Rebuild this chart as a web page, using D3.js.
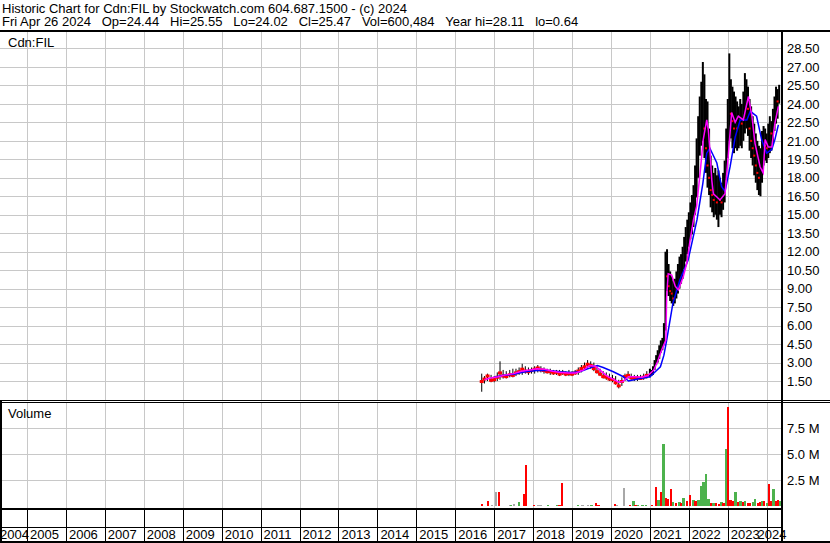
<!DOCTYPE html>
<html>
<head>
<meta charset="utf-8">
<script src="https://cdn.jsdelivr.net/npm/d3@7"></script>
<style>
  body { margin: 0; background: #fff; }
  svg { display: block; font-family: "Liberation Sans", Arial, sans-serif; }
  .grid line { stroke: #c8c8c8; shape-rendering: crispEdges; }
  .grid path { display: none; }
  .lbl path, .lbl line { display: none; }
  .lbl text { font-size: 13px; fill: #000; }
  .band line { stroke: #000; shape-rendering: crispEdges; }
  .band path { display: none; }
</style>
</head>
<body>
<div id="chart"></div>
<script>
// header text
const headerLines = [
  "Historic Chart for Cdn:FIL by Stockwatch.com 604.687.1500 - (c) 2024",
  "Fri Apr 26 2024   Op=24.44   Hi=25.55   Lo=24.02   Cl=25.47   Vol=600,484   Year hi=28.11   lo=0.64"
]
const symbolName = "Cdn:FIL"

// axis ticks
const yearValues = [2004, 2005, 2006, 2007, 2008, 2009, 2010, 2011, 2012, 2013, 2014,
                    2015, 2016, 2017, 2018, 2019, 2020, 2021, 2022, 2023, 2024]
const yearLabels = ["2004", "2005", "2006", "2007", "2008", "2009", "2010", "2011", "2012", "2013", "2014",
                    "2015", "2016", "2017", "2018", "2019", "2020", "2021", "2022", "2023", "2024"]
const priceTicks = [1.5, 3, 4.5, 6, 7.5, 9, 10.5, 12, 13.5, 15, 16.5, 18, 19.5, 21, 22.5, 24, 25.5, 27, 28.5]
const volumeTicks = [2.5, 5, 7.5]          // millions
const volumeTickLabels = ["2.5 M", "5.0 M", "7.5 M"]

// price bars (decimal year, high, low, close)
const barDates = [
  2016.68, 2016.75, 2016.83, 2016.92,
  2017.00, 2017.08, 2017.15, 2017.23, 2017.31, 2017.40, 2017.48, 2017.56, 2017.64, 2017.72, 2017.80, 2017.88, 2017.96,
  2018.04, 2018.12, 2018.20, 2018.28, 2018.36, 2018.44, 2018.52, 2018.60, 2018.68, 2018.76, 2018.84, 2018.92,
  2019.00, 2019.08, 2019.16, 2019.24, 2019.32, 2019.40, 2019.48, 2019.56, 2019.64, 2019.72, 2019.80, 2019.88, 2019.96,
  2020.04, 2020.12, 2020.20, 2020.28, 2020.36, 2020.44, 2020.52, 2020.60, 2020.68, 2020.76, 2020.84, 2020.92,
  2021.00, 2021.04, 2021.08, 2021.12, 2021.16, 2021.20, 2021.24, 2021.28, 2021.32, 2021.36, 2021.40, 2021.44, 2021.48,
  2021.52, 2021.56, 2021.60, 2021.64, 2021.68, 2021.72, 2021.76, 2021.80, 2021.84, 2021.88, 2021.92, 2021.96,
  2022.00, 2022.04, 2022.08, 2022.12, 2022.16, 2022.20, 2022.24, 2022.28, 2022.32, 2022.36, 2022.40, 2022.44, 2022.48,
  2022.52, 2022.56, 2022.60, 2022.64, 2022.68, 2022.72, 2022.76, 2022.80, 2022.84, 2022.88, 2022.92, 2022.96,
  2023.00, 2023.04, 2023.08, 2023.12, 2023.16, 2023.20, 2023.24, 2023.28, 2023.32, 2023.36, 2023.40, 2023.44, 2023.48,
  2023.52, 2023.56, 2023.60, 2023.64, 2023.68, 2023.72, 2023.76, 2023.80, 2023.84, 2023.88, 2023.92, 2023.96,
  2024.00, 2024.04, 2024.08, 2024.12, 2024.16, 2024.20, 2024.24, 2024.28, 2024.32
]
const barHigh = [
  2.10, 1.90, 2.10, 2.00,
  1.90, 2.20, 3.10, 2.40, 2.30, 2.40, 2.50, 2.50, 2.60, 2.90, 2.70, 2.60, 2.60,
  2.70, 2.80, 2.70, 2.60, 2.50, 2.50, 2.40, 2.40, 2.40, 2.40, 2.30, 2.40,
  2.30, 2.40, 2.60, 2.80, 3.00, 3.20, 3.10, 3.00, 2.70, 2.50, 2.30, 2.20, 2.10,
  2.00, 1.90, 1.60, 1.80, 2.10, 2.30, 2.10, 2.00, 2.00, 2.00, 2.10, 2.30,
  2.50, 2.40, 2.70, 3.20, 3.60, 4.00, 4.40, 4.80, 5.00, 6.20, 12.0, 12.2, 11.0,
  10.4, 10.0, 9.60, 9.80, 10.4, 11.0, 11.6, 11.8, 12.4, 13.2, 14.0, 14.6,
  15.2, 16.0, 16.6, 17.4, 19.0, 21.2, 23.0, 24.6, 25.8, 27.4, 26.4, 24.4, 24.2,
  22.0, 19.8, 19.0, 18.4, 18.8, 18.2, 18.6, 18.0, 17.6, 18.4, 19.4, 22.0,
  24.4, 28.1, 26.0, 25.4, 25.0, 24.6, 24.2, 23.8, 24.4, 24.0, 25.0, 26.5, 26.0,
  25.4, 24.4, 23.8, 23.0, 22.4, 21.6, 21.0, 20.6, 20.4, 21.8, 22.2, 22.0,
  21.6, 22.4, 23.0, 22.6, 23.6, 24.6, 25.4, 25.2, 25.55
]
const barLow = [
  0.63, 1.30, 1.50, 1.40,
  1.40, 1.50, 1.60, 1.70, 1.70, 1.80, 1.80, 1.90, 2.00, 2.00, 2.10, 2.00, 2.10,
  2.10, 2.20, 2.20, 2.10, 2.10, 2.00, 2.00, 2.00, 1.90, 2.00, 1.90, 1.90,
  1.90, 2.00, 2.00, 2.20, 2.40, 2.50, 2.50, 2.30, 2.10, 1.90, 1.70, 1.60, 1.50,
  1.40, 1.20, 0.90, 1.10, 1.50, 1.70, 1.60, 1.50, 1.50, 1.60, 1.60, 1.70,
  1.80, 1.90, 2.00, 2.40, 2.80, 3.00, 3.30, 3.80, 4.00, 4.40, 5.60, 8.80, 8.40,
  8.00, 7.80, 7.60, 7.80, 8.20, 8.60, 9.00, 9.40, 9.80, 10.6, 11.2, 11.8,
  12.4, 13.0, 13.4, 14.0, 15.0, 16.4, 18.0, 19.8, 20.6, 21.0, 19.6, 18.4, 17.2,
  16.6, 15.6, 15.2, 14.8, 15.0, 14.6, 14.0, 15.0, 14.8, 15.4, 16.0, 17.8,
  19.6, 21.0, 21.2, 20.4, 20.0, 20.4, 20.2, 20.4, 20.6, 20.4, 21.0, 21.6, 22.0,
  21.4, 20.2, 19.6, 19.0, 18.2, 17.6, 17.0, 16.6, 16.5, 17.6, 19.0, 19.4,
  19.2, 19.6, 20.0, 20.2, 20.8, 21.8, 22.4, 22.8, 24.02
]
const barClose = [
  1.50, 1.70, 1.95, 1.60,
  1.65, 1.85, 2.20, 1.95, 1.90, 2.05, 2.00, 2.20, 2.30, 2.50, 2.35, 2.30, 2.40,
  2.50, 2.60, 2.45, 2.40, 2.30, 2.30, 2.20, 2.25, 2.10, 2.20, 2.10, 2.15,
  2.10, 2.20, 2.35, 2.55, 2.70, 2.90, 2.80, 2.55, 2.30, 2.10, 1.90, 1.85, 1.70,
  1.65, 1.40, 1.15, 1.50, 1.90, 2.00, 1.80, 1.75, 1.80, 1.75, 1.85, 2.00,
  2.20, 2.20, 2.50, 3.00, 3.30, 3.60, 4.00, 4.40, 4.60, 5.60, 10.4, 10.0, 9.20,
  8.80, 8.60, 8.20, 8.80, 9.40, 10.0, 10.4, 10.8, 11.4, 12.2, 12.8, 13.4,
  14.0, 14.6, 15.2, 16.0, 17.6, 19.6, 21.8, 23.0, 24.0, 25.0, 22.0, 20.4, 19.0,
  18.0, 17.0, 16.6, 16.2, 16.6, 16.0, 16.8, 16.2, 16.0, 16.8, 17.6, 20.4,
  22.6, 24.0, 23.2, 22.6, 22.0, 22.4, 22.0, 22.2, 22.6, 22.4, 23.2, 24.4, 24.6,
  23.6, 22.0, 21.0, 20.4, 19.8, 19.0, 18.4, 18.0, 18.2, 19.8, 20.8, 20.6,
  20.4, 21.2, 21.8, 21.6, 22.4, 23.6, 24.4, 24.2, 25.47
]

// short moving average (magenta)
const fastDates = [
  2016.75, 2016.90, 2017.10, 2017.30, 2017.50, 2017.70, 2017.90, 2018.10, 2018.30, 2018.50, 2018.70, 2018.90,
  2019.10, 2019.30, 2019.45, 2019.60, 2019.75, 2019.90, 2020.05, 2020.20, 2020.30, 2020.45, 2020.60, 2020.80, 2020.95,
  2021.10, 2021.20, 2021.30, 2021.38, 2021.41, 2021.43, 2021.47, 2021.56, 2021.65, 2021.73, 2021.86, 2021.95,
  2022.03, 2022.12, 2022.20, 2022.29, 2022.37, 2022.46, 2022.50, 2022.54, 2022.59, 2022.63, 2022.70, 2022.80, 2022.93,
  2023.01, 2023.10, 2023.19, 2023.27, 2023.40, 2023.53, 2023.62, 2023.70, 2023.83, 2023.91, 2023.96,
  2024.04, 2024.13, 2024.21, 2024.30
]
const fastValues = [
  1.60, 1.75, 1.85, 2.00, 2.10, 2.30, 2.40, 2.50, 2.45, 2.30, 2.20, 2.15,
  2.15, 2.40, 2.75, 2.70, 2.30, 1.90, 1.65, 1.40, 1.45, 1.85, 1.85, 1.80, 1.95,
  2.40, 3.10, 4.00, 4.60, 4.80, 8.30, 10.2, 10.1, 9.20, 8.90, 10.0, 11.1,
  12.9, 14.6, 15.7, 18.4, 21.1, 22.7, 21.9, 20.3, 17.8, 16.7, 16.5, 16.2, 16.7,
  19.7, 23.3, 22.5, 23.0, 22.7, 24.6, 23.0, 20.8, 18.9, 18.4, 21.1,
  20.5, 20.5, 22.4, 23.8
]

// long moving average (blue)
const slowDates = [
  2017.00, 2017.20, 2017.50, 2017.80, 2018.10, 2018.40, 2018.70,
  2019.00, 2019.20, 2019.45, 2019.65, 2019.80, 2020.06, 2020.32, 2020.45, 2020.75,
  2021.00, 2021.27, 2021.36, 2021.43, 2021.59, 2021.77, 2021.98,
  2022.21, 2022.36, 2022.46, 2022.54, 2022.72, 2022.84, 2022.93,
  2023.06, 2023.19, 2023.32, 2023.49, 2023.58, 2023.74, 2023.87,
  2024.00, 2024.13, 2024.21, 2024.30
]
const slowValues = [
  1.80, 1.95, 2.05, 2.25, 2.35, 2.35, 2.25,
  2.20, 2.25, 2.55, 2.75, 2.60, 2.25, 1.85, 1.50, 1.70,
  1.85, 2.66, 3.60, 4.80, 7.80, 9.70, 11.3,
  14.6, 17.55, 20.0, 20.4, 19.2, 17.3, 16.9,
  18.9, 21.3, 22.7, 22.7, 23.4, 23.0, 21.1,
  20.0, 20.3, 21.1, 22.3
]

// volume (millions), direction u = up, d = down, n = unchanged
const volDates = [
  2016.68, 2016.83, 2016.94,
  2017.04, 2017.12, 2017.41, 2017.43, 2017.51, 2017.64, 2017.76, 2017.81,
  2018.02, 2018.13, 2018.20, 2018.38, 2018.61, 2018.67, 2018.74,
  2019.15, 2019.26, 2019.41, 2019.49, 2019.61, 2019.67,
  2020.10, 2020.15, 2020.33, 2020.49, 2020.57, 2020.62, 2020.69, 2020.80, 2020.90,
  2021.05, 2021.15, 2021.22, 2021.28, 2021.34, 2021.41, 2021.46, 2021.54, 2021.59, 2021.67, 2021.75, 2021.80, 2021.86, 2021.95,
  2022.03, 2022.11, 2022.17, 2022.24, 2022.31, 2022.37, 2022.43, 2022.50, 2022.57, 2022.63, 2022.70, 2022.77, 2022.83, 2022.89, 2022.95,
  2023.00, 2023.06, 2023.14, 2023.19, 2023.25, 2023.32, 2023.38, 2023.44, 2023.51, 2023.57, 2023.64, 2023.70, 2023.77, 2023.82, 2023.87, 2023.93,
  2024.00, 2024.06, 2024.12, 2024.17, 2024.23, 2024.28, 2024.33
]
const volValues = [
  0.22, 0.54, 0.10,
  1.35, 1.38, 0.15, 0.12, 0.25, 0.45, 1.18, 3.97,
  0.08, 0.10, 0.08, 0.08, 0.15, 0.10, 2.27,
  0.08, 0.08, 0.15, 0.08, 0.30, 0.12,
  0.20, 0.15, 1.76, 0.08, 0.50, 0.15, 0.10, 0.08, 0.10,
  0.15, 1.89, 0.60, 1.38, 5.99, 0.80, 0.70, 1.63, 0.40, 0.35, 0.45, 0.30, 0.80, 0.50,
  1.10, 0.60, 0.50, 0.65, 1.95, 2.37, 3.10, 0.70, 0.35, 0.30, 0.35, 0.25, 0.40, 0.30, 5.50,
  9.58, 0.60, 0.50, 1.35, 0.40, 0.50, 0.45, 0.55, 0.30, 0.35, 0.45, 0.75, 0.35, 0.40, 0.55, 0.50,
  0.30, 2.15, 0.50, 1.67, 0.55, 0.60, 0.50
]
const volDirs = [
  'd', 'd', 'n',
  'n', 'd', 'n', 'u', 'n', 'u', 'd', 'd',
  'd', 'n', 'n', 'u', 'u', 'd', 'd',
  'u', 'n', 'n', 'u', 'd', 'd',
  'd', 'n', 'n', 'd', 'u', 'd', 'u', 'u', 'u',
  'd', 'd', 'u', 'd', 'u', 'd', 'd', 'd', 'u', 'd', 'u', 'd', 'u', 'd',
  'd', 'u', 'd', 'u', 'u', 'u', 'u', 'u', 'd', 'u', 'd', 'd', 'u', 'd', 'u',
  'd', 'd', 'd', 'u', 'd', 'u', 'd', 'u', 'd', 'd', 'u', 'u', 'd', 'd', 'u', 'd',
  'u', 'd', 'd', 'u', 'd', 'd', 'u'
]

const volColors = { u: '#4db24d', d: '#ff0000', n: '#a8a8a8' }

// layout
const width = 830, height = 543
const plotRight = 781
const priceTop = 31, priceBottom = 400
const volTop = 403, volBottom = 509
const bandMid = 527, bandBottom = 541

const svg = d3.select('#chart').append('svg')
  .attr('width', width).attr('height', height)

// scales
const x = d3.scaleLinear().domain([2004.3065, 2024.3673]).range([0, plotRight])
const yPrice = d3.scaleLinear().domain([0, 30]).range([399.5, 30])
const yVol = d3.scaleLinear().domain([0, 10]).range([506.3, 402.3])

// header
svg.selectAll('text.header')
  .data(headerLines)
  .enter().append('text')
  .attr('class', 'header')
  .attr('x', 2)
  .attr('y', (d, i) => 12.5 + i * 13.5)
  .attr('font-size', 13)
  .style('white-space', 'pre')
  .text(d => d)

// grids - price panel
svg.append('g').attr('class', 'grid')
  .attr('transform', `translate(0,${priceBottom})`)
  .call(d3.axisBottom(x).tickValues(yearValues).tickSize(-(priceBottom - priceTop)).tickFormat(''))
svg.append('g').attr('class', 'grid')
  .call(d3.axisLeft(yPrice).tickValues(priceTicks).tickSize(-plotRight).tickFormat(''))

// grids - volume panel
svg.append('g').attr('class', 'grid')
  .attr('transform', `translate(0,${volBottom})`)
  .call(d3.axisBottom(x).tickValues(yearValues).tickSize(-(volBottom - volTop)).tickFormat(''))
svg.append('g').attr('class', 'grid')
  .call(d3.axisLeft(yVol).tickValues(volumeTicks).tickSize(-plotRight).tickFormat(''))

// clip the data to the panels
const defs = svg.append('defs')
defs.append('clipPath').attr('id', 'clipPrice')
  .append('rect').attr('x', 0).attr('y', priceTop).attr('width', plotRight).attr('height', priceBottom - priceTop)
defs.append('clipPath').attr('id', 'clipVol')
  .append('rect').attr('x', 0).attr('y', volTop).attr('width', plotRight).attr('height', volBottom - volTop)

// volume bars
const volData = volDates.map((d, i) => ({ t: d, v: volValues[i], dir: volDirs[i] }))
svg.append('g').attr('clip-path', 'url(#clipVol)')
  .selectAll('rect')
  .data(volData)
  .enter().append('rect')
  .attr('x', d => x(d.t) - 1)
  .attr('width', 2.4)
  .attr('y', d => yVol(d.v))
  .attr('height', d => yVol(0) - yVol(d.v))
  .attr('fill', d => volColors[d.dir])
  .attr('shape-rendering', 'crispEdges')

// price bars; sparse (monthly) stretch drawn thinner
const bars = barDates.map((d, i) => ({
  t: d, hi: barHigh[i], lo: barLow[i], cl: barClose[i],
  down: i > 0 && barClose[i] < barClose[i - 1],
  sparse: i < barDates.length - 1 && barDates[i + 1] - d > 0.05
}))
const priceG = svg.append('g').attr('clip-path', 'url(#clipPrice)')

priceG.selectAll('line.bar')
  .data(bars)
  .enter().append('line')
  .attr('class', 'bar')
  .attr('x1', d => x(d.t)).attr('x2', d => x(d.t))
  .attr('y1', d => yPrice(d.hi)).attr('y2', d => yPrice(d.lo))
  .attr('stroke', '#000')
  .attr('stroke-width', d => d.sparse ? 1 : 2)

// red close marks: every close in the sparse stretch, down closes elsewhere
priceG.selectAll('rect.close')
  .data(bars.filter(d => d.sparse || d.down))
  .enter().append('rect')
  .attr('class', 'close')
  .attr('x', d => x(d.t) - (d.sparse ? 2 : 1))
  .attr('y', d => yPrice(d.cl) - 1)
  .attr('width', d => d.sparse ? 4 : 2)
  .attr('height', d => d.sparse ? 3 : 2)
  .attr('fill', '#ff0000')

// moving averages
const line = d3.line().x(d => x(d[0])).y(d => yPrice(d[1]))
priceG.append('path')
  .datum(slowDates.map((d, i) => [d, slowValues[i]]))
  .attr('d', line)
  .attr('fill', 'none').attr('stroke', '#0000ff').attr('stroke-width', 1.5)
priceG.append('path')
  .datum(fastDates.map((d, i) => [d, fastValues[i]]))
  .attr('d', line)
  .attr('fill', 'none').attr('stroke', '#ff00ff').attr('stroke-width', 1.5)

// value labels on the right
svg.append('g').attr('class', 'lbl')
  .attr('transform', `translate(${plotRight + 1},0)`)
  .call(d3.axisRight(yPrice).tickValues(priceTicks).tickSize(0).tickPadding(5).tickFormat(d3.format('.2f')))
svg.append('g').attr('class', 'lbl')
  .attr('transform', `translate(${plotRight + 1},0)`)
  .call(d3.axisRight(yVol).tickValues(volumeTicks).tickSize(0).tickPadding(5)
    .tickFormat((d, i) => volumeTickLabels[i]))

// panel titles
svg.append('text').attr('x', 8).attr('y', 46.5).attr('font-size', 13).text(symbolName)
svg.append('text').attr('x', 8).attr('y', 417.5).attr('font-size', 13).text('Volume')

// date band: tick row and label row separators
svg.append('g').attr('class', 'band')
  .attr('transform', `translate(0,${volBottom})`)
  .call(d3.axisBottom(x).tickValues(yearValues).tickSize(bandMid - volBottom).tickFormat(''))
svg.append('g').attr('class', 'band')
  .attr('transform', `translate(0,${bandMid})`)
  .call(d3.axisBottom(x).tickValues(yearValues).tickSize(bandBottom - bandMid).tickFormat(''))

svg.append('g')
  .selectAll('text')
  .data(yearValues)
  .enter().append('text')
  .attr('x', d => Math.min(Math.max(x(d) + 3, 0), 757.5))
  .attr('y', 539)
  .attr('font-size', 13)
  .text((d, i) => yearLabels[i])

// frame lines
const frame = svg.append('g').attr('fill', '#000').attr('shape-rendering', 'crispEdges')
frame.append('rect').attr('x', 0).attr('y', 30).attr('width', width).attr('height', 2)
frame.append('rect').attr('x', 0).attr('y', 400).attr('width', width).attr('height', 1)
frame.append('rect').attr('x', 0).attr('y', 402).attr('width', width).attr('height', 1)
frame.append('rect').attr('x', plotRight).attr('y', 30).attr('width', 2).attr('height', height - 30)
frame.append('rect').attr('x', 0).attr('y', 508).attr('width', plotRight).attr('height', 2)
frame.append('rect').attr('x', 0).attr('y', bandMid).attr('width', plotRight).attr('height', 1)
frame.append('rect').attr('x', 0).attr('y', bandBottom).attr('width', width).attr('height', 2)
frame.append('rect').attr('x', 0).attr('y', 400).attr('width', 2).attr('height', height - 400)
</script>
</body>
</html>
